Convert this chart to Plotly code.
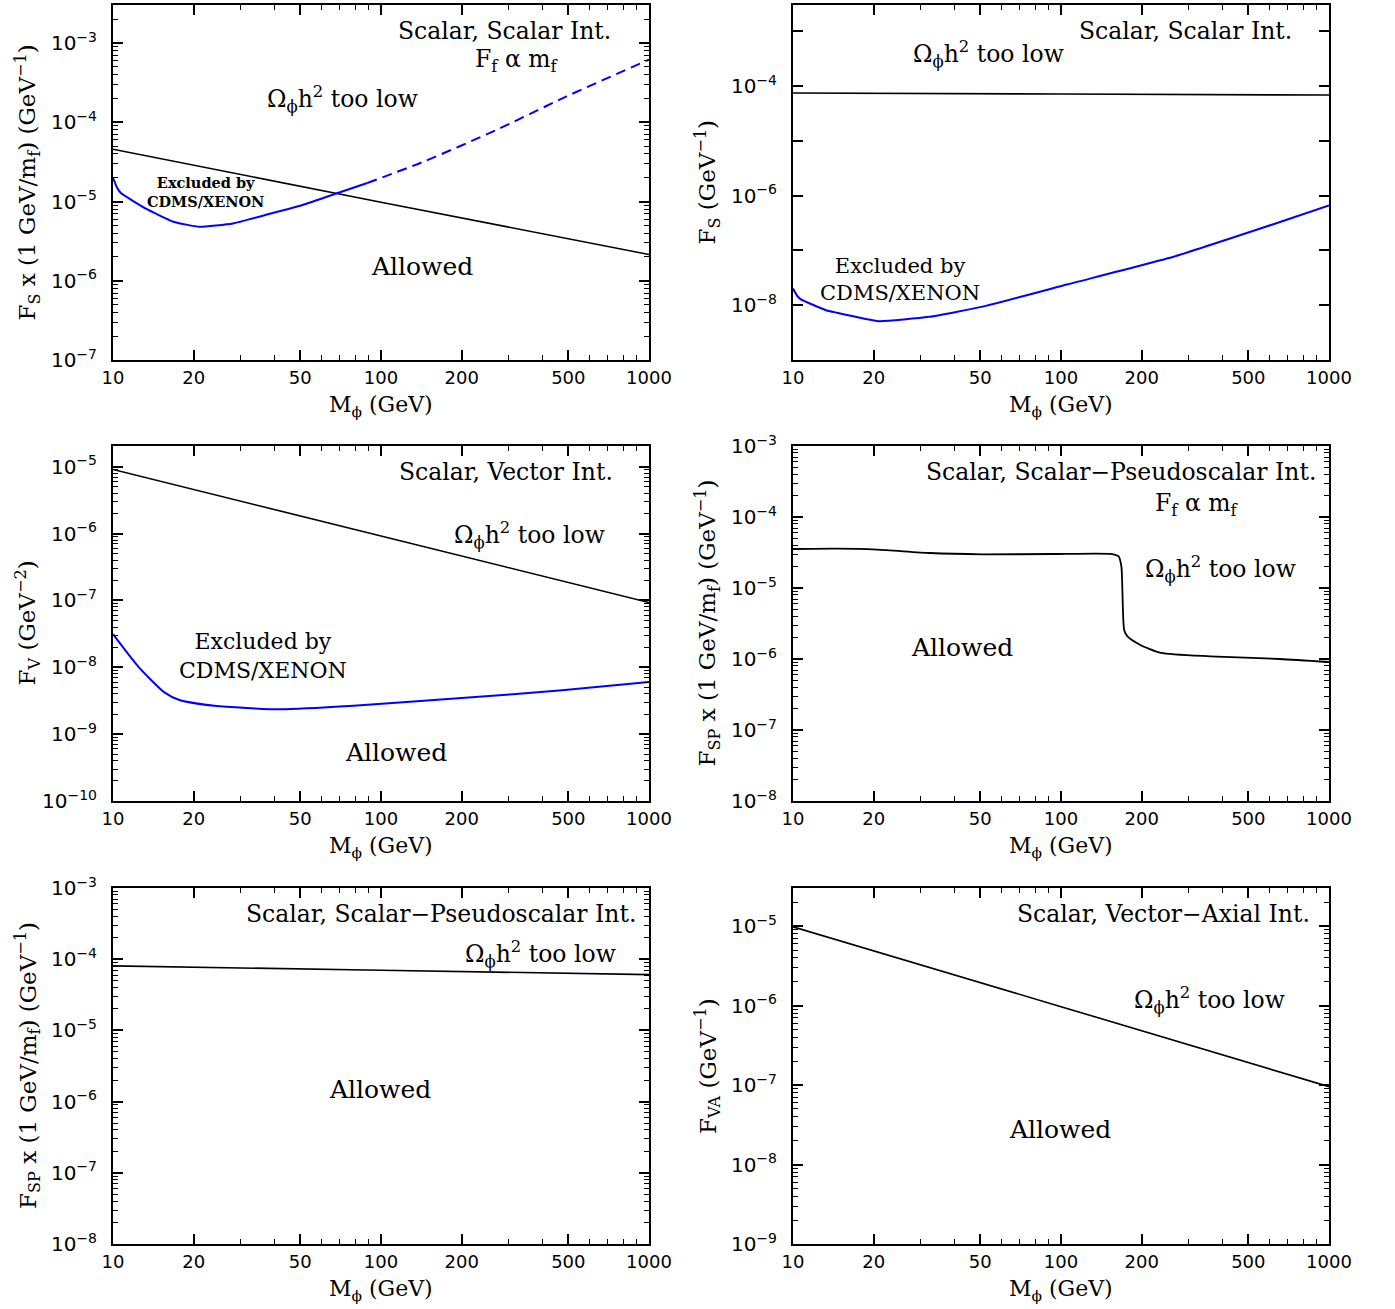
import math
import plotly.graph_objects as go

W, H = 1395, 1309

# ---------------- data ----------------
# Panel 1: Scalar, Scalar Int. (F_f ∝ m_f)
p1_relic_m = [10, 100, 1000]
p1_relic_f = [4.57e-5, 9.8e-6, 2.14e-6]
p1_dd_m = [10, 10.37, 10.7, 13.2, 16.8, 21.0, 28.0, 37.8, 51.0, 69.9, 88.9]
p1_dd_f = [1.99e-5, 1.48e-5, 1.28e-5, 8.2e-6, 5.56e-6, 4.80e-6, 5.28e-6, 6.89e-6, 9.06e-6, 1.30e-5, 1.71e-5]
p1_dd_ext_m = [88.9, 146, 266, 486, 1000]
p1_dd_ext_f = [1.71e-5, 3.24e-5, 7.83e-5, 2.08e-4, 6.17e-4]

# Panel 2: Scalar, Scalar Int.
p2_relic_m = [10, 100, 1000]
p2_relic_f = [7.46e-5, 7.15e-5, 6.86e-5]
p2_dd_m = [10, 10.37, 10.7, 13.2, 14.4, 20.9, 32.2, 50.5, 106, 261, 551, 1000]
p2_dd_f = [2.01e-8, 1.48e-8, 1.28e-8, 8.2e-9, 7.4e-9, 5.12e-9, 6.14e-9, 9.33e-9, 2.41e-8, 7.57e-8, 2.48e-7, 6.61e-7]

# Panel 3: Scalar, Vector Int.
p3_relic_m = [10, 100, 1000]
p3_relic_f = [9.1e-6, 9.2e-7, 9.3e-8]
p3_dd_m = [10, 12.4, 15.5, 17.7, 23.9, 42.2, 79, 194, 474, 1000]
p3_dd_f = [3.13e-8, 1.035e-8, 4.26e-9, 3.24e-9, 2.65e-9, 2.35e-9, 2.65e-9, 3.44e-9, 4.52e-9, 6.05e-9]

# Panel 4: Scalar, Scalar-Pseudoscalar Int. (F_f ∝ m_f)
p4_relic_m = [10, 14.4, 20.6, 32.4, 50.8, 92.7, 155, 164, 168, 172, 177, 197, 236, 360, 656, 1000]
p4_relic_f = [3.54e-5, 3.58e-5, 3.47e-5, 3.11e-5, 2.98e-5, 3.01e-5, 3.01e-5, 2.79e-5, 2.02e-5,
              2.59e-6, 2.08e-6, 1.59e-6, 1.22e-6, 1.09e-6, 1.0e-6, 9.08e-7]

# Panel 5: Scalar, Scalar-Pseudoscalar Int.
p5_relic_m = [10, 100, 1000]
p5_relic_f = [8.07e-5, 7.0e-5, 6.07e-5]

# Panel 6: Scalar, Vector-Axial Int.
p6_relic_m = [10, 100, 1000]
p6_relic_f = [9.8e-6, 9.7e-7, 9.55e-8]

x_major = [10, 20, 50, 100, 200, 500, 1000]
x_major_text = ["10", "20", "50", "100", "200", "500", "1000"]
x_minor = [30, 40, 60, 70, 80, 90, 300, 400, 600, 700, 800, 900]

# y ranges (log10) per panel and decades labelled
y_ranges = [(-7, -2.52), (-9, -2.52), (-10, -4.69), (-8, -3), (-8, -3), (-9, -4.52)]
y_label_step = [1, 2, 1, 1, 1, 1]
y_minor_on = [True, False, True, True, True, True]

y_titles = [
    "F<sub>S</sub> x (1 GeV/m<sub>f</sub>) (GeV<sup>−1</sup>)",
    "F<sub>S</sub> (GeV<sup>−1</sup>)",
    "F<sub>V</sub> (GeV<sup>−2</sup>)",
    "F<sub>SP</sub> x (1 GeV/m<sub>f</sub>) (GeV<sup>−1</sup>)",
    "F<sub>SP</sub> x (1 GeV/m<sub>f</sub>) (GeV<sup>−1</sup>)",
    "F<sub>VA</sub> (GeV<sup>−1</sup>)",
]
x_title = "M<sub>ϕ</sub> (GeV)"

# ---------------- layout geometry ----------------
col_px = [(113, 649), (793, 1329)]
row_px = [(5, 360), (446, 801), (888, 1244)]

BLACK = "black"
BLUE = "#0000ff"
SERIF = "DejaVu Serif"
SANS = "DejaVu Sans"

fig = go.Figure()


def add_line(i, xs, ys, color, width, dash="solid", smooth=0.6):
    fig.add_trace(go.Scatter(
        x=xs, y=ys, mode="lines", xaxis=f"x{i}", yaxis=f"y{i}",
        line=dict(color=color, width=width, dash=dash, shape="spline", smoothing=smooth),
        showlegend=False, hoverinfo="skip"))


add_line(1, p1_relic_m, p1_relic_f, BLACK, 1.6)
add_line(1, p1_dd_m, p1_dd_f, BLUE, 2, smooth=0.4)
add_line(1, p1_dd_ext_m, p1_dd_ext_f, BLUE, 2, dash="10px,6px")
add_line(2, p2_relic_m, p2_relic_f, BLACK, 1.6)
add_line(2, p2_dd_m, p2_dd_f, BLUE, 2, smooth=0.4)
add_line(3, p3_relic_m, p3_relic_f, BLACK, 1.6)
add_line(3, p3_dd_m, p3_dd_f, BLUE, 2)
add_line(4, p4_relic_m, p4_relic_f, BLACK, 1.8)
add_line(5, p5_relic_m, p5_relic_f, BLACK, 1.6)
add_line(6, p6_relic_m, p6_relic_f, BLACK, 1.6)

layout = dict(
    width=W, height=H,
    margin=dict(l=0, r=0, t=0, b=0),
    paper_bgcolor="white", plot_bgcolor="white",
    showlegend=False,
)

for i in range(6):
    r, c = divmod(i, 2)
    x0, x1 = col_px[c]
    yt, yb = row_px[r]
    lo, hi = y_ranges[i]
    dec = list(range(math.ceil(lo), math.floor(hi) + 1))
    yvals = [10.0 ** d for d in dec]
    ytext = [f"10<sup>−{-d}</sup>" if (d % y_label_step[i] == 0) else "" for d in dec]
    yminor = []
    if y_minor_on[i]:
        for d in range(math.floor(lo), math.ceil(hi) + 1):
            for k in range(2, 10):
                v = k * 10.0 ** d
                if 10 ** lo < v < 10 ** hi:
                    yminor.append(v)
    layout[f"xaxis{i+1}"] = dict(
        type="log", range=[1, 3], domain=[x0 / W, x1 / W], anchor=f"y{i+1}",
        tickvals=x_major, ticktext=x_major_text,
        ticks="inside", ticklen=10, tickwidth=1.5, tickcolor=BLACK,
        minor=dict(tickvals=x_minor, ticks="inside", ticklen=5, tickwidth=1.2, tickcolor=BLACK, showgrid=False),
        showline=True, linewidth=2, linecolor=BLACK, mirror="ticks",
        showgrid=False, zeroline=False, automargin=False,
        tickfont=dict(family=SANS, size=18, color=BLACK),
    )
    layout[f"yaxis{i+1}"] = dict(
        type="log", range=[lo, hi], domain=[1 - yb / H, 1 - yt / H], anchor=f"x{i+1}",
        tickvals=yvals, ticktext=ytext,
        ticks="inside", ticklen=10, tickwidth=1.5, tickcolor=BLACK,
        minor=dict(tickvals=yminor, ticks="inside", ticklen=5, tickwidth=1.2, tickcolor=BLACK, showgrid=False),
        showline=True, linewidth=2, linecolor=BLACK, mirror="ticks",
        showgrid=False, zeroline=False, automargin=False,
        ticklabelstandoff=10,
        tickfont=dict(family=SANS, size=20, color=BLACK),
    )

annotations = []


def ann(text, px, py, size=23.5, bold=False, angle=0):
    annotations.append(dict(
        text=f"<b>{text}</b>" if bold else text,
        x=px / W, y=1 - py / H, xref="paper", yref="paper",
        xanchor="center", yanchor="middle", showarrow=False, textangle=angle,
        font=dict(family=SERIF, size=size, color=BLACK)))


omega = "Ω<sub>ϕ</sub>h<sup>2</sup> too low"
ff = "F<sub>f</sub> α m<sub>f</sub>"
excl = "Excluded by<br>CDMS/XENON"

# axis titles
for i in range(6):
    r, c = divmod(i, 2)
    x0, x1 = col_px[c]
    yt, yb = row_px[r]
    ann(x_title, (x0 + x1) / 2, yb + 46, size=22)
    ann(y_titles[i], 27 + 680 * c, (yt + yb) / 2, size=23, angle=-90)

# panel 1
ann("Scalar, Scalar Int.", 505, 31)
ann(ff, 517, 61)
ann(omega, 342, 99)
ann(excl, 205, 192, size=14.5, bold=True)
ann("Allowed", 422, 266, size=25)
# panel 2
ann("Scalar, Scalar Int.", 1185, 31)
ann(omega, 988, 54)
ann(excl, 900, 280, size=21)
# panel 3
ann("Scalar, Vector Int.", 506, 472)
ann(omega, 529, 535)
ann(excl, 263, 656, size=22)
ann("Allowed", 396, 752, size=25)
# panel 4
ann("Scalar, Scalar−Pseudoscalar Int.", 1121, 472)
ann(ff, 1197, 504)
ann(omega, 1220, 569)
ann("Allowed", 962, 647, size=25)
# panel 5
ann("Scalar, Scalar−Pseudoscalar Int.", 441, 914)
ann(omega, 540, 954)
ann("Allowed", 380, 1089, size=25)
# panel 6
ann("Scalar, Vector−Axial Int.", 1163, 914)
ann(omega, 1209, 1000)
ann("Allowed", 1060, 1129, size=25)

layout["annotations"] = annotations
fig.update_layout(**layout)
fig.write_html("out.html")
